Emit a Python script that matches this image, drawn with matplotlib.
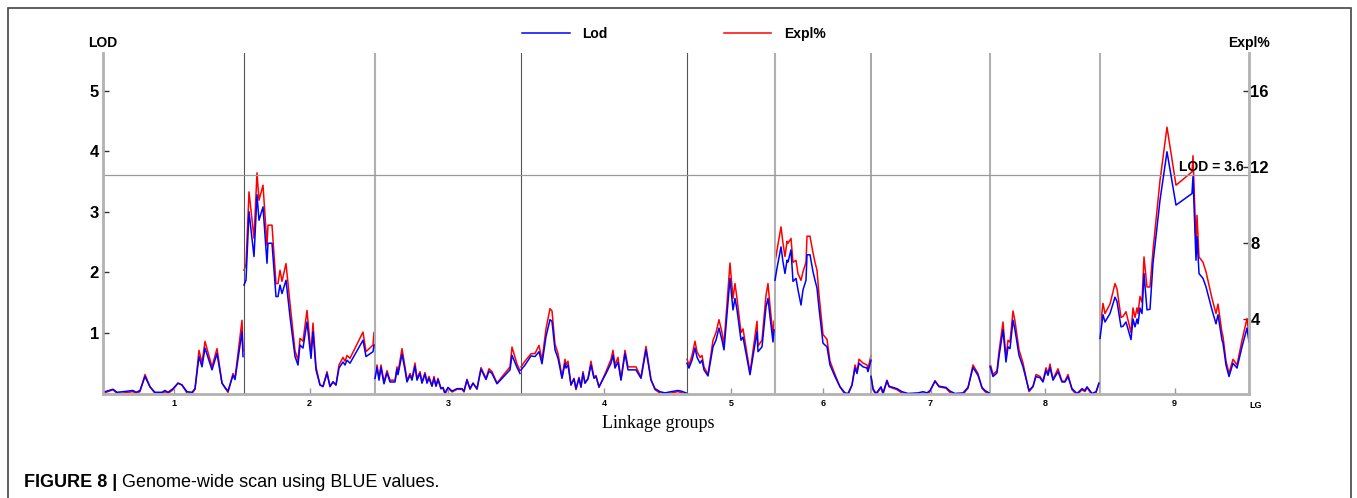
import matplotlib.pyplot as plt
import matplotlib.patches as patches

# linkage group names and lengths (cM, read from separator positions)
group_names = ['1', '2', '3', '4', '5', '6', '7', '8', '9']
group_len = [141, 131, 146, 166, 88, 96, 119, 110, 149]

# positions inside each group, LOD and Expl%
pos_lg1 = [0, 10, 14, 20, 30, 33, 37, 42, 47, 52, 59, 62, 65, 70, 75, 79, 84, 89, 92, 96, 99, 102, 109, 114, 119, 122, 125, 130, 132, 139, 140]
lod_lg1 = [0.02, 0.07, 0.02, 0.03, 0.05, 0.02, 0.05, 0.28, 0.11, 0.02, 0.02, 0.05, 0.02, 0.08, 0.17, 0.14, 0.03, 0.02, 0.08, 0.61, 0.44, 0.75, 0.39, 0.66, 0.17, 0.10, 0.04, 0.30, 0.23, 1.02, 0.61]
expl_lg1 = [0.1, 0.3, 0.1, 0.12, 0.2, 0.1, 0.2, 1.1, 0.45, 0.1, 0.1, 0.2, 0.1, 0.3, 0.65, 0.55, 0.12, 0.1, 0.32, 2.37, 1.7, 2.84, 1.5, 2.46, 0.65, 0.4, 0.16, 1.15, 0.9, 3.95, 2.35]

pos_lg2 = [0, 2, 5, 10, 13, 15, 19, 23, 24, 28, 32, 34, 36, 38, 42, 46, 51, 54, 56, 59, 63, 67, 69, 72, 76, 79, 83, 86, 89, 92, 95, 99, 101, 103, 106, 119, 122, 129, 130]
lod_lg2 = [1.79, 1.87, 3.0, 2.26, 3.28, 2.86, 3.08, 2.15, 2.48, 2.48, 1.6, 1.6, 1.79, 1.65, 1.87, 1.27, 0.61, 0.47, 0.8, 0.75, 1.18, 0.58, 1.02, 0.39, 0.14, 0.12, 0.33, 0.12, 0.19, 0.14, 0.42, 0.52, 0.47, 0.55, 0.5, 0.88, 0.61, 0.69, 0.8]
expl_lg2 = [6.58, 6.9, 10.7, 8.26, 11.7, 10.26, 11.05, 7.9, 8.95, 8.95, 5.88, 5.88, 6.58, 6.0, 6.93, 4.84, 2.35, 1.85, 3.0, 2.85, 4.47, 2.2, 3.8, 1.5, 0.55, 0.45, 1.25, 0.45, 0.72, 0.55, 1.6, 2.0, 1.8, 2.1, 1.95, 3.33, 2.3, 2.65, 3.3]

pos_lg3 = [0, 2, 4, 6, 9, 12, 15, 20, 22, 23, 27, 30, 32, 35, 37, 40, 42, 45, 47, 50, 52, 54, 57, 59, 61, 63, 66, 68, 70, 73, 77, 82, 87, 89, 92, 95, 98, 102, 106, 111, 114, 117, 122, 135, 137, 142, 145]
lod_lg3 = [0.25, 0.43, 0.22, 0.43, 0.16, 0.34, 0.19, 0.19, 0.4, 0.31, 0.65, 0.39, 0.19, 0.3, 0.22, 0.45, 0.22, 0.33, 0.17, 0.32, 0.17, 0.25, 0.12, 0.25, 0.12, 0.23, 0.08, 0.1, 0.01, 0.1, 0.04, 0.08, 0.08, 0.04, 0.22, 0.08, 0.17, 0.08, 0.4, 0.23, 0.37, 0.33, 0.16, 0.39, 0.63, 0.43, 0.33]
expl_lg3 = [1.0, 1.6, 0.9, 1.6, 0.7, 1.3, 0.8, 0.8, 1.5, 1.2, 2.46, 1.5, 0.8, 1.15, 0.9, 1.7, 0.9, 1.25, 0.7, 1.2, 0.7, 1.0, 0.5, 1.0, 0.5, 0.9, 0.35, 0.4, 0.05, 0.4, 0.18, 0.32, 0.32, 0.18, 0.85, 0.32, 0.65, 0.32, 1.46, 0.9, 1.4, 1.25, 0.65, 1.5, 2.54, 1.65, 1.3]

pos_lg4 = [0, 4, 10, 14, 18, 21, 25, 29, 31, 34, 37, 39, 41, 44, 45, 47, 50, 53, 55, 58, 60, 62, 64, 67, 70, 73, 75, 78, 85, 90, 92, 94, 97, 100, 104, 107, 115, 120, 125, 130, 134, 139, 144, 150, 157, 160, 165]
lod_lg4 = [0.39, 0.47, 0.62, 0.61, 0.69, 0.49, 0.94, 1.22, 1.19, 0.72, 0.58, 0.42, 0.25, 0.5, 0.42, 0.47, 0.14, 0.24, 0.08, 0.25, 0.11, 0.33, 0.17, 0.24, 0.47, 0.25, 0.28, 0.11, 0.33, 0.5, 0.63, 0.42, 0.52, 0.22, 0.66, 0.39, 0.39, 0.25, 0.72, 0.22, 0.08, 0.03, 0.01, 0.03, 0.05, 0.04, 0.01]
expl_lg4 = [1.5, 1.8, 2.19, 2.2, 2.63, 1.85, 3.5, 4.56, 4.44, 2.7, 2.2, 1.6, 0.95, 1.9, 1.6, 1.8, 0.55, 0.9, 0.3, 0.95, 0.42, 1.25, 0.65, 0.9, 1.8, 0.95, 1.05, 0.42, 1.25, 1.9, 2.37, 1.6, 2.0, 0.85, 2.37, 1.5, 1.5, 0.95, 2.58, 0.85, 0.3, 0.12, 0.05, 0.12, 0.2, 0.15, 0.05]

pos_lg5 = [0, 2, 5, 8, 10, 13, 15, 17, 21, 26, 29, 32, 35, 37, 43, 46, 48, 50, 54, 56, 63, 70, 71, 75, 79, 81, 83, 86, 87]
lod_lg5 = [0.5, 0.42, 0.55, 0.75, 0.6, 0.5, 0.55, 0.39, 0.29, 0.77, 0.88, 1.08, 0.88, 0.72, 1.9, 1.38, 1.57, 1.38, 0.88, 0.93, 0.31, 1.02, 0.69, 0.77, 1.43, 1.57, 1.27, 0.85, 1.05]
expl_lg5 = [1.9, 1.6, 2.1, 2.85, 2.3, 2.0, 2.1, 1.5, 1.1, 2.9, 3.3, 3.98, 3.3, 2.7, 6.96, 5.1, 5.88, 5.1, 3.3, 3.5, 1.2, 3.9, 2.6, 2.9, 5.26, 5.88, 4.7, 3.2, 3.9]

pos_lg6 = [0, 2, 6, 8, 10, 12, 13, 16, 18, 21, 23, 26, 28, 31, 32, 35, 38, 40, 42, 44, 48, 52, 55, 60, 65, 70, 73, 77, 80, 82, 84, 88, 92, 93, 96]
lod_lg6 = [1.87, 2.07, 2.42, 2.17, 1.98, 2.2, 2.17, 2.37, 1.85, 1.9, 1.71, 1.46, 1.71, 1.87, 2.29, 2.29, 2.01, 1.87, 1.74, 1.41, 0.83, 0.77, 0.47, 0.28, 0.11, 0.01, 0.0, 0.14, 0.42, 0.33, 0.5, 0.44, 0.42, 0.36, 0.55]
expl_lg6 = [7.0, 7.63, 8.86, 8.0, 7.3, 8.1, 8.0, 8.25, 7.0, 7.1, 6.4, 6.05, 6.5, 7.0, 8.37, 8.37, 7.5, 7.0, 6.58, 5.3, 3.2, 2.95, 1.8, 1.1, 0.45, 0.05, 0.02, 0.55, 1.6, 1.25, 1.9, 1.7, 1.6, 1.4, 2.1]

pos_lg7 = [0, 2, 5, 10, 12, 16, 18, 26, 31, 37, 47, 52, 56, 59, 64, 68, 75, 79, 84, 92, 97, 102, 107, 111, 114, 118]
lod_lg7 = [0.28, 0.08, 0.0, 0.11, 0.01, 0.21, 0.12, 0.08, 0.03, 0.0, 0.01, 0.03, 0.01, 0.05, 0.2, 0.12, 0.1, 0.04, 0.0, 0.01, 0.1, 0.43, 0.3, 0.1, 0.05, 0.01]
expl_lg7 = [1.05, 0.3, 0.02, 0.42, 0.05, 0.8, 0.45, 0.3, 0.12, 0.02, 0.05, 0.12, 0.05, 0.2, 0.78, 0.45, 0.38, 0.15, 0.02, 0.05, 0.38, 1.6, 1.15, 0.38, 0.2, 0.05]

pos_lg8 = [0, 3, 7, 9, 13, 16, 18, 20, 23, 25, 29, 33, 39, 43, 46, 50, 53, 56, 58, 60, 63, 68, 72, 75, 78, 82, 87, 92, 95, 97, 102, 106, 109]
lod_lg8 = [0.45, 0.28, 0.34, 0.61, 1.05, 0.52, 0.77, 0.74, 1.21, 1.05, 0.63, 0.44, 0.05, 0.12, 0.28, 0.26, 0.19, 0.38, 0.3, 0.43, 0.22, 0.36, 0.19, 0.19, 0.28, 0.08, 0.0, 0.08, 0.05, 0.11, 0.0, 0.03, 0.17]
expl_lg8 = [1.7, 1.1, 1.3, 2.3, 3.86, 2.0, 2.9, 2.8, 4.44, 3.9, 2.4, 1.7, 0.2, 0.45, 1.1, 1.0, 0.75, 1.45, 1.15, 1.65, 0.85, 1.4, 0.75, 0.75, 1.1, 0.3, 0.02, 0.3, 0.2, 0.42, 0.02, 0.12, 0.65]

pos_lg9 = [0, 3, 5, 10, 15, 17, 21, 23, 26, 31, 33, 35, 37, 38, 40, 42, 44, 47, 50, 53, 60, 67, 76, 92, 93, 96, 97, 99, 103, 106, 112, 116, 118, 122, 123, 126, 129, 133, 137, 142, 147, 149]
lod_lg9 = [0.91, 1.3, 1.18, 1.32, 1.59, 1.52, 1.1, 1.11, 1.18, 0.89, 1.23, 1.1, 1.23, 1.15, 1.41, 1.32, 1.98, 1.38, 1.39, 2.15, 3.19, 3.99, 3.11, 3.3, 3.58, 2.2, 2.59, 1.98, 1.9, 1.76, 1.38, 1.15, 1.3, 0.88, 0.83, 0.47, 0.28, 0.5, 0.42, 0.77, 1.08, 0.85]
expl_lg9 = [3.5, 4.84, 4.3, 4.8, 5.88, 5.6, 4.1, 4.15, 4.4, 3.3, 4.6, 4.1, 4.6, 4.3, 5.2, 4.9, 7.28, 5.7, 5.7, 7.63, 11.3, 14.1, 11.05, 11.75, 12.6, 8.0, 9.47, 7.28, 7.0, 6.5, 5.1, 4.3, 4.8, 3.3, 3.1, 1.8, 1.16, 1.9, 1.6, 2.9, 4.04, 3.2]

positions = [pos_lg1, pos_lg2, pos_lg3, pos_lg4, pos_lg5, pos_lg6, pos_lg7, pos_lg8, pos_lg9]
lods = [lod_lg1, lod_lg2, lod_lg3, lod_lg4, lod_lg5, lod_lg6, lod_lg7, lod_lg8, lod_lg9]
expls = [expl_lg1, expl_lg2, expl_lg3, expl_lg4, expl_lg5, expl_lg6, expl_lg7, expl_lg8, expl_lg9]

threshold = 3.6
lod_ticks = [1, 2, 3, 4, 5]
expl_ticks = [4, 8, 12, 16]

sans = ['Liberation Sans', 'DejaVu Sans']

starts = [sum(group_len[:i]) for i in range(len(group_len))]
total = sum(group_len)
mids = [s + l / 2 for s, l in zip(starts, group_len)]

W, H = 1357, 498
fig = plt.figure(figsize=(W / 100, H / 100), dpi=100)
fig.patches.append(patches.Rectangle((8 / W, -0.02), 1343 / W, 1 - 8 / H + 0.02,
                                     transform=fig.transFigure, fill=False,
                                     edgecolor='#444444', lw=1.2))

ax = fig.add_axes([103 / W, 1 - 393.5 / H, total / W, 340.5 / H])
ax2 = ax.twinx()
ax.set_zorder(ax2.get_zorder() + 1)
ax.patch.set_visible(False)

for i in range(len(group_len)):
    xs = [starts[i] + p for p in positions[i]]
    red_line, = ax2.plot(xs, expls[i], color='#ff0000', lw=1.1)
    blue_line, = ax.plot(xs, lods[i], color='#0000ff', lw=1.1)

# group separators
sep_colors = ['#555555', '#b0b0b0', '#555555', '#555555', '#b0b0b0', '#999999', '#b0b0b0', '#b0b0b0']
sep_widths = [0.8, 1.5, 0.8, 0.8, 1.5, 1.2, 1.5, 1.5]
for s, c, w in zip(starts[1:], sep_colors, sep_widths):
    ax.axvline(s, color=c, lw=w, zorder=1)

ax.axhline(threshold, color='#999999', lw=0.9, zorder=1)
ax.annotate('LOD = 3.6', xy=(total, threshold), xytext=(-4, 1), textcoords='offset points',
            ha='right', va='bottom', fontsize=10, fontweight='bold', family=sans)

ax.set_xlim(0, total)
ax.set_ylim(0, 5.62)
ax2.set_ylim(0.1, 18.0)

for a in (ax, ax2):
    a.spines['top'].set_visible(False)
    for side in ('left', 'right', 'bottom'):
        a.spines[side].set_color('#b4b4b4')
        a.spines[side].set_linewidth(1.8)

ax.set_yticks(lod_ticks)
ax.set_yticklabels([str(t) for t in lod_ticks], fontsize=12, fontweight='bold', family=sans)
ax.tick_params(axis='y', direction='in', length=4, width=1, color='#333333', pad=3)
ax2.set_yticks(expl_ticks)
ax2.set_yticklabels([str(t) for t in expl_ticks], fontsize=12, fontweight='bold', family=sans)
ax2.tick_params(axis='y', direction='in', length=4, width=1, color='#333333', pad=1)

ax.set_xticks(mids)
ax.set_xticklabels(group_names, fontsize=6.5, fontweight='bold', family=sans)
ax.tick_params(axis='x', direction='in', length=4, width=1, color='#999999', pad=4)
ax.text(1.0, -0.035, 'LG', transform=ax.transAxes, ha='left', va='center',
        fontsize=6.5, fontweight='bold', family=sans)

ax.text(0, 1 + 3 / 340.5, 'LOD', transform=ax.transAxes, ha='center', va='bottom',
        fontsize=10, fontweight='bold', family=sans)
ax.text(1, 1 + 3 / 340.5, 'Expl%', transform=ax.transAxes, ha='center', va='bottom',
        fontsize=10, fontweight='bold', family=sans)

fig.legend([blue_line, red_line], ['Lod', 'Expl%'], ncol=2, frameon=False,
           loc='center', bbox_to_anchor=(674 / W, 1 - 34 / H),
           handlelength=3.4, columnspacing=8.4, handletextpad=0.9,
           prop={'weight': 'bold', 'size': 10, 'family': sans})

fig.text(658 / W, 1 - 423 / H, 'Linkage groups', ha='center', va='center',
         fontsize=13, family=['Liberation Serif', 'DejaVu Serif'])

cap = fig.text(24 / W, 1 - 482 / H, 'FIGURE 8 |', ha='left', va='center',
               fontsize=13, fontweight='bold', family=sans)
plt.annotate(' Genome-wide scan using BLUE values.', xy=(1, 0.5), xycoords=cap,
             ha='left', va='center', fontsize=13, family=sans, annotation_clip=False)

fig.savefig('out.png', dpi=100)
